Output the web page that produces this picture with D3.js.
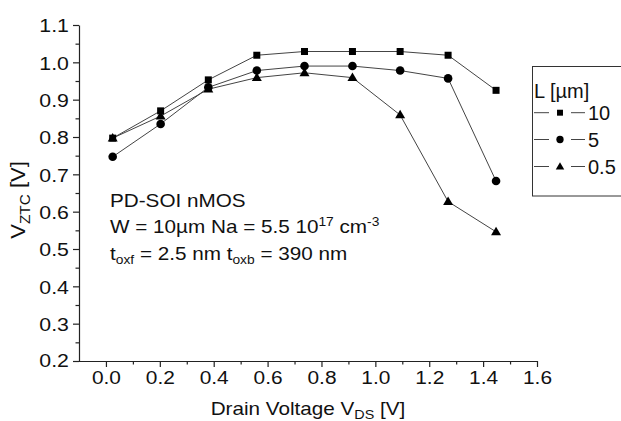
<!DOCTYPE html>
<html>
<head>
<meta charset="utf-8">
<script src="https://cdn.jsdelivr.net/npm/d3@7"></script>
<style>
  html, body { margin: 0; padding: 0; background: #fff; }
  svg { display: block; font-family: "Liberation Sans", Arial, Helvetica, sans-serif; }
</style>
</head>
<body>
<svg id="chart" width="621" height="421"></svg>
<script>
// Drain voltage of each measurement (V)
const vds = [0.025, 0.203, 0.38, 0.56, 0.737, 0.915, 1.092, 1.27, 1.448];

// Zero-temperature-coefficient voltage per channel length
const seriesNames = ["10", "5", "0.5"];
const vztcL10  = [0.797, 0.870, 0.953, 1.019, 1.029, 1.029, 1.029, 1.019, 0.925];
const vztcL5   = [0.747, 0.835, 0.933, 0.978, 0.990, 0.990, 0.978, 0.957, 0.682];
const vztcL05  = [0.797, 0.856, 0.928, 0.959, 0.972, 0.959, 0.859, 0.627, 0.546];
const markerShapes = ["square", "circle", "triangle"];

const xTicks = [0.0, 0.2, 0.4, 0.6, 0.8, 1.0, 1.2, 1.4, 1.6];
const yTicks = [0.2, 0.3, 0.4, 0.5, 0.6, 0.7, 0.8, 0.9, 1.0, 1.1];

const series = [vztcL10, vztcL5, vztcL05].map((vals, i) => ({
  name: seriesNames[i],
  shape: markerShapes[i],
  points: vals.map((v, j) => ({ x: vds[j], y: v }))
}));

const svg = d3.select("#chart");
const x = d3.scaleLinear().domain([-0.1, 1.6]).range([79, 537]);
const y = d3.scaleLinear().domain([0.2, 1.1]).range([361, 25]);

const stretch = 1.15;

// Axes
const xAxis = d3.axisBottom(x).tickValues(xTicks).tickFormat(d3.format(".1f"))
  .tickSizeInner(6).tickSizeOuter(0).tickPadding(4);
const gx = svg.append("g").attr("transform", `translate(0,${y(0.2)})`).call(xAxis);
gx.select(".domain").attr("d", `M${x(-0.1)},0.5H${x(1.6)}`);

const yAxis = d3.axisLeft(y).tickValues(yTicks).tickFormat(d3.format(".1f"))
  .tickSizeInner(6).tickSizeOuter(0).tickPadding(3);
const gy = svg.append("g").attr("transform", `translate(${x(-0.1)},0)`).call(yAxis);

[gx, gy].forEach(g => {
  g.select(".domain").attr("stroke", "#222").attr("stroke-width", 1.2);
  g.selectAll(".tick line").attr("stroke", "#222").attr("stroke-width", 1.2);
  g.selectAll(".tick text").attr("fill", "#111").attr("font-size", 19)
    .attr("font-family", "Liberation Sans, Arial, sans-serif");
});
gx.selectAll(".tick text").attr("transform", `scale(${stretch - 0.05},1)`);
gy.selectAll(".tick text").attr("dy", "0.36em").attr("transform", `scale(${stretch - 0.03},1)`);
// 0.2 label on the y axis sits at the very bottom of its tick
gy.selectAll(".tick").filter(d => d === 0.2).select("text").attr("dy", "0.3em");

// Minor ticks
const minorX = d3.range(0.1, 1.6, 0.2);
svg.append("g").selectAll("line").data(minorX).join("line")
  .attr("x1", d => x(d) + 0.5).attr("x2", d => x(d) + 0.5)
  .attr("y1", y(0.2)).attr("y2", y(0.2) + 3.5)
  .attr("stroke", "#222").attr("stroke-width", 1.2);
const minorY = d3.range(0.25, 1.1, 0.1);
svg.append("g").selectAll("line").data(minorY).join("line")
  .attr("y1", d => y(d) + 0.5).attr("y2", d => y(d) + 0.5)
  .attr("x1", x(-0.1)).attr("x2", x(-0.1) - 3.5)
  .attr("stroke", "#222").attr("stroke-width", 1.2);

// Axis titles
const xt = svg.append("text")
  .attr("transform", `translate(${308},415) scale(${stretch},1)`)
  .attr("text-anchor", "middle").attr("font-size", 18).attr("fill", "#111");
xt.append("tspan").text("Drain Voltage V");
xt.append("tspan").attr("font-size", 12.5).attr("dy", 4).text("DS");
xt.append("tspan").attr("dy", -4).text(" [V]");

const yt = svg.append("text")
  .attr("transform", `translate(${25},200) rotate(-90) scale(1.1,1)`)
  .attr("text-anchor", "middle").attr("font-size", 20).attr("fill", "#111");
yt.append("tspan").text("V");
yt.append("tspan").attr("font-size", 14).attr("dy", 5).text("ZTC");
yt.append("tspan").attr("dy", -5).text(" [V]");

// Series lines
const line = d3.line().x(d => x(d.x)).y(d => y(d.y));
svg.append("g").selectAll("path").data(series).join("path")
  .attr("d", s => line(s.points))
  .attr("fill", "none").attr("stroke", "#444").attr("stroke-width", 1);

// Markers
function drawMarker(g, shape, cx, cy, scale = 1) {
  if (shape === "square") {
    const s = 7 * scale;
    g.append("rect").attr("x", cx - s / 2).attr("y", cy - s / 2)
      .attr("width", s).attr("height", s).attr("fill", "#000");
  } else if (shape === "circle") {
    g.append("circle").attr("cx", cx).attr("cy", cy).attr("r", 4.3 * scale).attr("fill", "#000");
  } else {
    const h = 8.5 * scale, w = 10 * scale;
    g.append("path")
      .attr("d", `M${cx},${cy - h * 0.6}L${cx + w / 2},${cy + h * 0.4}L${cx - w / 2},${cy + h * 0.4}Z`)
      .attr("fill", "#000");
  }
}
const markerLayer = svg.append("g");
series.forEach(s => {
  s.points.forEach(p => drawMarker(markerLayer, s.shape, x(p.x), y(p.y)));
});

// Annotation
const note = svg.append("g").attr("fill", "#111").attr("font-size", 18);
const n1 = note.append("text").attr("transform", `translate(110,206.5) scale(${stretch},1)`);
n1.text("PD-SOI nMOS");
const n2 = note.append("text").attr("transform", `translate(110,233) scale(${stretch},1)`);
n2.append("tspan").text("W = 10µm Na = 5.5 10");
n2.append("tspan").attr("font-size", 12).attr("dy", -7).text("17");
n2.append("tspan").attr("dy", 7).text(" cm");
n2.append("tspan").attr("font-size", 12).attr("dy", -7).text("-3");
const n3 = note.append("text").attr("transform", `translate(110,260) scale(${stretch},1)`);
n3.append("tspan").text("t");
n3.append("tspan").attr("font-size", 12).attr("dy", 4).text("oxf");
n3.append("tspan").attr("dy", -4).text(" = 2.5 nm t");
n3.append("tspan").attr("font-size", 12).attr("dy", 4).text("oxb");
n3.append("tspan").attr("dy", -4).text(" = 390 nm");

// Legend
const legend = svg.append("g");
legend.append("rect").attr("x", 532.5).attr("y", 66.5).attr("width", 120).attr("height", 129.5)
  .attr("fill", "#fff").attr("stroke", "#333").attr("stroke-width", 1);
legend.append("text").attr("x", 534).attr("y", 98).attr("font-size", 20).attr("fill", "#111")
  .text("L [µm]");
const rowY = [112.7, 139.5, 166.5];
series.forEach((s, i) => {
  const ry = rowY[i];
  // line sample broken around the marker
  [[534, 549], [571, 585]].forEach(([a, b]) => {
    legend.append("line").attr("x1", a).attr("x2", b).attr("y1", ry).attr("y2", ry)
      .attr("stroke", "#444").attr("stroke-width", 1);
  });
  drawMarker(legend, s.shape, 560, ry, 0.85);
  legend.append("text").attr("x", 588).attr("y", ry + 7.5).attr("font-size", 20)
    .attr("fill", "#111").text(s.name);
});
</script>
</body>
</html>
